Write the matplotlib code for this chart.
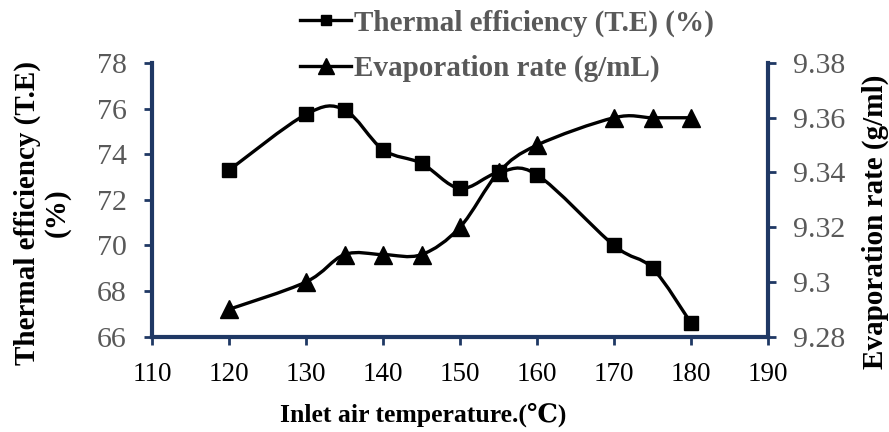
import matplotlib
matplotlib.use("Agg")
import matplotlib.pyplot as plt
from matplotlib.path import Path
from matplotlib.patches import PathPatch
from matplotlib.lines import Line2D

# ---- data ----
temperature = [120, 130, 135, 140, 145, 150, 155, 160, 170, 175, 180]
thermal_eff = [73.3, 75.75, 75.95, 74.2, 73.6, 72.5, 73.2, 73.1, 70.0, 69.0, 66.6]
evap_rate = [9.290, 9.300, 9.310, 9.310, 9.310, 9.320, 9.340, 9.350, 9.360, 9.360, 9.360]

x_ticks = [110, 120, 130, 140, 150, 160, 170, 180, 190]
left_ticks = [66, 68, 70, 72, 74, 76, 78]
right_ticks = [9.28, 9.30, 9.32, 9.34, 9.36, 9.38]
right_tick_labels = ["9.28", "9.3", "9.32", "9.34", "9.36", "9.38"]

label_te = "Thermal efficiency (T.E) (%)"
label_er = "Evaporation rate (g/mL)"
xlabel = "Inlet air temperature.(\u2103)"
ylabel_left = "Thermal efficiency (T.E)\n(%)"
ylabel_right = "Evaporation rate (g/ml)"

SERIF = ["Liberation Serif", "DejaVu Serif"]
NAVY = "#1f3864"
GRAY = "#595959"


def smooth_path(xs, ys):
    """Excel-like smoothed line: Catmull-Rom converted to cubic Bezier segments."""
    pts = list(zip(xs, ys))
    n = len(pts)
    verts = [pts[0]]
    codes = [Path.MOVETO]
    for i in range(n - 1):
        p0 = pts[i - 1] if i > 0 else pts[i]
        p1 = pts[i]
        p2 = pts[i + 1]
        p3 = pts[i + 2] if i + 2 < n else pts[i + 1]
        c1 = (p1[0] + (p2[0] - p0[0]) / 6.0, p1[1] + (p2[1] - p0[1]) / 6.0)
        c2 = (p2[0] - (p3[0] - p1[0]) / 6.0, p2[1] - (p3[1] - p1[1]) / 6.0)
        verts += [c1, c2, p2]
        codes += [Path.CURVE4] * 3
    return Path(verts, codes)


fig = plt.figure(figsize=(8.89, 4.32), dpi=100)
ax = fig.add_axes([152 / 889, 1 - 336.7 / 432, (768 - 152) / 889, (336.7 - 63) / 432])
ax2 = ax.twinx()

LW = 2.4
ax.add_patch(PathPatch(smooth_path(temperature, thermal_eff), fill=False,
                       edgecolor="black", lw=LW, zorder=3))
ax.plot(temperature, thermal_eff, ls="none", marker="s", ms=9.5, color="black", zorder=4)

ax2.add_patch(PathPatch(smooth_path(temperature, evap_rate), fill=False,
                        edgecolor="black", lw=LW, zorder=3))
ax2.plot(temperature, evap_rate, ls="none", marker="^", ms=13, color="black", zorder=4)

ax.set_xlim(110, 190)
ax.set_ylim(66, 78)
ax2.set_ylim(9.28, 9.38)
ax.set_xticks(x_ticks)
ax.set_yticks(left_ticks)
ax2.set_yticks(right_ticks)
ax2.set_yticklabels(right_tick_labels)

for a in (ax, ax2):
    a.spines["top"].set_visible(False)
    for s in ("left", "right", "bottom"):
        a.spines[s].set_color(NAVY)
        a.spines[s].set_linewidth(3)
    a.tick_params(colors=NAVY, width=2, length=6, direction="out")

ax.spines["right"].set_visible(False)
ax2.spines["left"].set_visible(False)
ax2.spines["bottom"].set_visible(False)

ax.tick_params(axis="x", pad=12, labelcolor="black")
ax.tick_params(axis="y", pad=12, labelcolor=GRAY)
ax2.tick_params(axis="y", pad=12, labelcolor=GRAY)

for lab in ax.get_xticklabels():
    lab.set_fontfamily(SERIF)
    lab.set_fontsize(19.5)
for lab in ax.get_yticklabels() + ax2.get_yticklabels():
    lab.set_fontfamily(SERIF)
    lab.set_fontsize(21.5)

# axis titles
fig.text(423 / 889, 1 - 415 / 432, xlabel, ha="center", va="center",
         fontsize=18.5, fontweight="bold", family=SERIF, color="black")
fig.text(42 / 889, 1 - 213 / 432, ylabel_left, ha="center", va="center",
         rotation=90, multialignment="center", fontsize=21, fontweight="bold",
         family=SERIF, color="black", linespacing=1.1)
fig.text(875 / 889, 1 - 222 / 432, ylabel_right, ha="center", va="center",
         rotation=90, fontsize=21, fontweight="bold", family=SERIF, color="black")

handles = [
    Line2D([], [], color="black", lw=LW, marker="s", ms=7.5),
    Line2D([], [], color="black", lw=LW, marker="^", ms=11),
]
fig.legend(handles, [label_te, label_er], loc="upper left",
           bbox_to_anchor=(296 / 889, 1 - 5 / 432), frameon=False,
           prop={"family": SERIF, "weight": "bold", "size": 21},
           labelcolor=GRAY, handlelength=1.75, handletextpad=0.1,
           labelspacing=0.62, borderaxespad=0.0, borderpad=0.15)

fig.savefig("out.png", dpi=100)
